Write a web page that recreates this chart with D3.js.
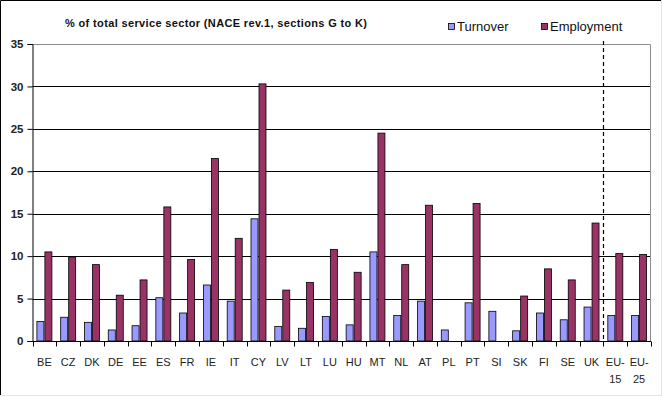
<!DOCTYPE html>
<html>
<head>
<meta charset="utf-8">
<script src="https://cdn.jsdelivr.net/npm/d3@7"></script>
<style>
  body { margin: 0; background: #fff; }
  text { font-family: "Liberation Sans", Arial, sans-serif; }
</style>
</head>
<body>
<div id="chart"></div>
<script>
// data
var countries = ["BE", "CZ", "DK", "DE", "EE", "ES", "FR", "IE", "IT", "CY", "LV", "LT", "LU",
    "HU", "MT", "NL", "AT", "PL", "PT", "SI", "SK", "FI", "SE", "UK", "EU-15", "EU-25"];
var turnover = [2.3, 2.8, 2.2, 1.3, 1.8, 5.1, 3.3, 6.6, 4.7, 14.4, 1.7, 1.5, 2.9,
    1.9, 10.5, 3.0, 4.7, 1.3, 4.5, 3.5, 1.2, 3.3, 2.5, 4.0, 3.0, 3.0];
var employment = [10.5, 9.9, 9.0, 5.4, 7.2, 15.8, 9.6, 21.5, 12.1, 30.3, 6.0, 6.9, 10.8,
    8.1, 24.5, 9.0, 16.0, null, 16.2, null, 5.3, 8.5, 7.2, 13.9, 10.3, 10.2];
var yTicks = [0, 5, 10, 15, 20, 25, 30, 35];
var seriesNames = ["Turnover", "Employment"];
var seriesColors = ["#9999ff", "#993366"];

var W = 663, H = 397;
var pLeft = 32.5, pRight = 651, pTop = 44, pBottom = 341;

var svg = d3.select("#chart").append("svg").attr("width", W).attr("height", H);

// outer frame
svg.append("rect").attr("x", 0.5).attr("y", 0.5).attr("width", W - 2).attr("height", H - 2)
    .attr("fill", "#fff").attr("stroke", "#e4e4e4");
svg.append("path").attr("d", "M0.5," + (H - 2) + "V0.5H" + (W - 2))
    .attr("fill", "none").attr("stroke", "#000");

var x = d3.scaleBand().domain(countries).range([pLeft, pRight]);
var y = d3.scaleLinear().domain([0, 35]).range([pBottom, pTop]);
var inner = d3.scaleBand().domain([0, 1]).range([0, 16]);
var pad = (x.bandwidth() - 16) / 2;

// gridlines
svg.append("g").selectAll("line")
    .data(yTicks.filter(function (t) { return t > 0 && t < 35; }))
    .enter().append("line")
    .attr("x1", pLeft).attr("x2", pRight)
    .attr("y1", function (t) { return Math.round(y(t)) + 0.5; })
    .attr("y2", function (t) { return Math.round(y(t)) + 0.5; })
    .attr("stroke", "#000").attr("stroke-width", 1);

// plot area border (top, right)
svg.append("path")
    .attr("d", "M" + pLeft + "," + (pTop + 0.5) + "H" + (pRight - 0.5) + "V" + pBottom)
    .attr("fill", "none").attr("stroke", "#8c8c8c");

// bars
var groups = svg.append("g").selectAll("g")
    .data(countries)
    .enter().append("g")
    .attr("transform", function (c) { return "translate(" + (x(c) + pad) + ",0)"; });

[turnover, employment].forEach(function (series, si) {
    groups.filter(function (c, i) { return series[i] != null; })
        .append("rect")
        .attr("x", inner(si) + 0.5)
        .attr("y", function (c) { return y(series[countries.indexOf(c)]); })
        .attr("width", inner.bandwidth() - 1)
        .attr("height", function (c) { return pBottom - y(series[countries.indexOf(c)]); })
        .attr("fill", seriesColors[si])
        .attr("stroke", "#000").attr("stroke-width", 0.8);
});

// dashed separator before EU aggregates
var sepX = Math.round(x("EU-15")) + 0.5;
svg.append("line")
    .attr("x1", sepX).attr("x2", sepX).attr("y1", 41).attr("y2", pBottom)
    .attr("stroke", "#000").attr("stroke-width", 1.2).attr("stroke-dasharray", "4,3");

// y axis
var yAxis = svg.append("g").attr("transform", "translate(" + pLeft + ",0)")
    .call(d3.axisLeft(y).tickValues(yTicks).tickSize(5).tickPadding(4));
yAxis.select(".domain").attr("stroke", "#000");
yAxis.selectAll("text").attr("font-size", 11.5).attr("font-weight", "bold").attr("fill", "#222");

// x axis with ticks between categories
var xAxis = svg.append("g").attr("transform", "translate(0," + (pBottom + 0.5) + ")");
xAxis.append("line").attr("x1", pLeft - 5).attr("x2", pRight).attr("stroke", "#000");
xAxis.selectAll("line.tk")
    .data(countries.concat(["end"]))
    .enter().append("line").attr("class", "tk")
    .attr("x1", function (c, i) { return Math.round(pLeft + i * x.step()) + 0.5; })
    .attr("x2", function (c, i) { return Math.round(pLeft + i * x.step()) + 0.5; })
    .attr("y1", 0).attr("y2", 5)
    .attr("stroke", "#000");

xAxis.selectAll("text")
    .data(countries)
    .enter().append("text")
    .attr("x", function (c) { return x(c) + x.bandwidth() / 2; })
    .attr("y", 24)
    .attr("text-anchor", "middle")
    .attr("font-size", 11).attr("fill", "#222")
    .each(function (c) {
        var parts = c.indexOf("-") > 0 ? [c.split("-")[0] + "-", c.split("-")[1]] : [c];
        var t = d3.select(this);
        parts.forEach(function (p, k) {
            t.append("tspan").attr("x", x(c) + x.bandwidth() / 2)
                .attr("dy", k === 0 ? 0 : 17).text(p);
        });
    });

// title
svg.append("text").attr("x", 65).attr("y", 27)
    .attr("font-size", 11).attr("font-weight", "bold").attr("fill", "#111")
    .attr("textLength", 302).attr("lengthAdjust", "spacing")
    .text("% of total service sector (NACE rev.1, sections G to K)");

// legend
var legend = svg.append("g").selectAll("g")
    .data(seriesNames)
    .enter().append("g")
    .attr("transform", function (d, i) { return "translate(" + [448, 541][i] + ",0)"; });
legend.append("rect").attr("x", 0.5).attr("y", 23.5).attr("width", 6).attr("height", 6)
    .attr("fill", function (d, i) { return seriesColors[i]; })
    .attr("stroke", "#000").attr("stroke-width", 0.8);
legend.append("text").attr("x", 9).attr("y", 31)
    .attr("font-size", 13).attr("fill", "#111")
    .text(function (d) { return d; });
</script>
</body>
</html>
